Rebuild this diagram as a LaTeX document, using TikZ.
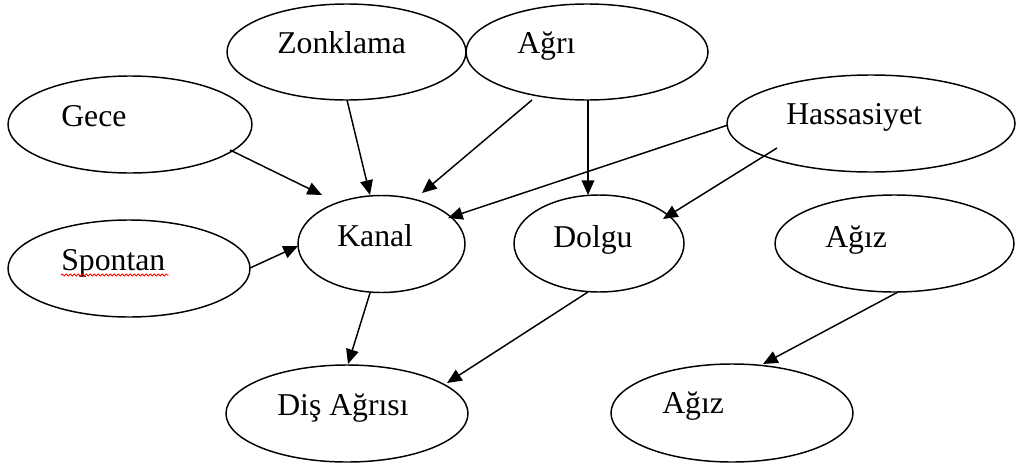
\documentclass[tikz,border=0pt]{standalone}
\usepackage{fontspec}
\setmainfont{Liberation Serif}
\usetikzlibrary{arrows.meta,shapes.geometric,decorations.pathmorphing}
\begin{document}
\begin{tikzpicture}[x=0.75pt,y=-0.75pt,
  oval/.style={draw, ellipse, line width=1.1pt, inner sep=0pt, outer sep=0pt},
  radii/.style 2 args={minimum width={#1*1.5pt}, minimum height={#2*1.5pt}},
  lbl/.style={anchor=base west, inner sep=0pt, font=\fontsize{23.8}{28}\selectfont},
  link/.style={line width=1.1pt, -{Triangle[length=11pt,width=9.5pt]}},
  squiggle/.style={red, line width=0.6pt, decorate,
    decoration={snake, amplitude=0.8pt, segment length=3pt}}]
\useasboundingbox (0,0) rectangle (1016,468);

% ovals
\node[oval, radii={119.5}{48}]   (zonk)  at (346.5,52)   {};
\node[oval, radii={121}{48}]     (agri)  at (587,52)     {};
\node[oval, radii={122}{48.5}]   (gece)  at (130,124.5)  {};
\node[oval, radii={144}{48.5}]   (hass)  at (871,123.5)  {};
\node[oval, radii={121}{48.5}]   (spon)  at (129,268.5)  {};
\node[oval, radii={83.5}{48.5}]  (kanal) at (381.5,244)  {};
\node[oval, radii={85}{48.5}]    (dolgu) at (599,243.5)  {};
\node[oval, radii={119.5}{48.5}] (agiz1) at (894.5,243.5) {};
\node[oval, radii={121}{48.5}]   (dis)   at (347,413.5)  {};
\node[oval, radii={121}{49}]     (agiz2) at (732,413)    {};

% labels
\node[lbl] (zonk-t)  at (277,53)  {Zonklama};
\node[lbl] (agri-t)  at (517,53)  {Ağrı};
\node[lbl] (gece-t)  at (61,126)  {Gece};
\node[lbl] (hass-t)  at (786,124) {Hassasiyet};
\node[lbl] (spon-t)  at (61,270)  {Spontan};
\node[lbl] (kanal-t) at (337,246) {Kanal};
\node[lbl] (dolgu-t) at (553,247) {Dolgu};
\node[lbl] (agiz1-t) at (825,247) {Ağız};
\node[lbl] (dis-t)   at (277,415) {Diş Ağrısı};
\node[lbl] (agiz2-t) at (662,413) {Ağız};

% spelling mark under Spontan
\draw[squiggle] ([shift={(0,5)}]spon-t.base west) -- ([shift={(3,5)}]spon-t.base east);

% connectors
\draw[link] ([shift={(100,25.5)}]gece.center)  -- ([shift={(-59.5,-49)}]kanal.center);
\draw[link] ([shift={(0.5,48)}]zonk.center)    -- ([shift={(-11.5,-49)}]kanal.center);
\draw[link] ([shift={(-55,48)}]agri.center)    -- ([shift={(40.5,-51)}]kanal.center);
\draw[link] ([shift={(1,48)}]agri.center)      -- ([shift={(-11,-48.5)}]dolgu.center);
\draw[link] ([shift={(-143,1.5)}]hass.center)  -- ([shift={(66.5,-26)}]kanal.center);
\draw[link] ([shift={(-94,24.5)}]hass.center)  -- ([shift={(64,-24.5)}]dolgu.center);
\draw[link] ([shift={(121,-0.5)}]spon.center)  -- ([shift={(-83.5,2)}]kanal.center);
\draw[link] ([shift={(-11.5,49)}]kanal.center) -- ([shift={(1,-49.5)}]dis.center);
\draw[link] ([shift={(-11,48.5)}]dolgu.center) -- ([shift={(100,-30.5)}]dis.center);
\draw[link] ([shift={(3.5,48.5)}]agiz1.center) -- ([shift={(31,-49)}]agiz2.center);
\end{tikzpicture}
\end{document}
